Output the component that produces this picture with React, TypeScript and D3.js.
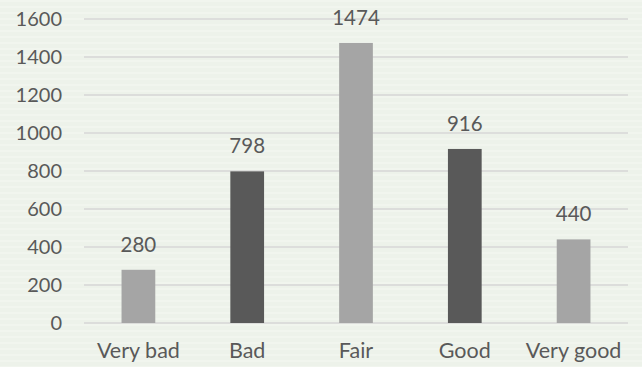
import React from "react";
import * as d3 from "d3";

const categories = ["Very bad", "Bad", "Fair", "Good", "Very good"];
const counts = [280, 798, 1474, 916, 440];
const yTicks = [0, 200, 400, 600, 800, 1000, 1200, 1400, 1600];

const W = 642;
const H = 367;
const plot = { left: 84, right: 628, top: 19, bottom: 323 };

const LIGHT = "#a5a5a5";
const DARK = "#595959";
const TEXT = "#595959";
const FONT = "Lato, 'Open Sans', sans-serif";

export default function App() {
  const x = d3
    .scaleBand<string>()
    .domain(categories)
    .range([plot.left, plot.right])
    .paddingInner(0.69)
    .paddingOuter(0.345);
  const y = d3.scaleLinear().domain([0, 1600]).range([plot.bottom, plot.top]);

  return (
    <svg
      width={W}
      height={H}
      style={{ position: "absolute", left: 0, top: 0 }}
      fontFamily={FONT}
    >
      <defs>
        <pattern id="canvas" width="8" height="6" patternUnits="userSpaceOnUse">
          <rect width="8" height="6" fill="#edf2ea" />
          <rect y="0" width="8" height="2" fill="#f1f5ee" />
        </pattern>
      </defs>
      <rect width={W} height={H} fill="url(#canvas)" />

      {yTicks.map((t) => (
        <g key={t}>
          <line
            x1={plot.left}
            x2={plot.right}
            y1={y(t)}
            y2={y(t)}
            stroke="#d6d6d6"
            strokeWidth={1.5}
          />
          <text
            x={62}
            y={y(t)}
            dy="0.36em"
            textAnchor="end"
            fontSize={20}
            fill={TEXT}
          >
            {t}
          </text>
        </g>
      ))}

      {categories.map((c, i) => {
        const v = counts[i];
        const bx = x(c)!;
        const bw = x.bandwidth();
        return (
          <g key={c}>
            <rect
              x={bx}
              y={y(v)}
              width={bw}
              height={y(0) - y(v)}
              fill={i % 2 === 0 ? LIGHT : DARK}
            />
            <text
              x={bx + bw / 2}
              y={y(v) - 18}
              textAnchor="middle"
              fontSize={20.5}
              fill={TEXT}
            >
              {v}
            </text>
            <text
              x={bx + bw / 2}
              y={358}
              textAnchor="middle"
              fontSize={21.5}
              fill={TEXT}
            >
              {c}
            </text>
          </g>
        );
      })}
    </svg>
  );
}
